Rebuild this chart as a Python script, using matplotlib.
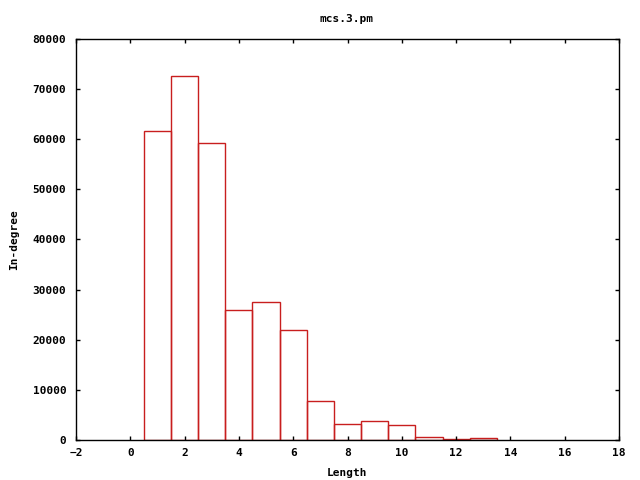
import matplotlib
matplotlib.use("Agg")
import matplotlib.pyplot as plt

lengths = [1, 2, 3, 4, 5, 6, 7, 8, 9, 10, 11, 12, 13]
counts = [61600, 72600, 59300, 26000, 27600, 22000, 7800, 3200, 3800, 3000, 600, 200, 350]

plt.rcParams['font.family'] = 'DejaVu Sans Mono'
plt.rcParams['font.size'] = 8
plt.rcParams['font.weight'] = 'bold'

fig = plt.figure(figsize=(6.4, 4.8), dpi=100)
ax = fig.add_axes([76/640, 40/480, (619-76)/640, 401/480])

ax.bar(lengths, counts, width=1.0, align='center', facecolor='none',
       edgecolor='#c81e1e', linewidth=1.0)

ax.set_xlim(-2, 18)
ax.set_ylim(0, 80000)
ax.set_xticks(range(-2, 19, 2))
ax.set_yticks(range(0, 80001, 10000))
ax.tick_params(direction='in', top=True, right=True, length=3, width=1)
ax.tick_params(axis='x', pad=6)
ax.tick_params(axis='y', pad=7)
for s in ax.spines.values():
    s.set_linewidth(1)

fig.text(347/640, 1 - 19/480, 'mcs.3.pm', ha='center', va='center', fontsize=8, fontweight='bold')
fig.text(347/640, 1 - 473/480, 'Length', ha='center', va='center', fontweight='bold')
fig.text(14/640, 1 - 240/480, 'In-degree', ha='center', va='center', rotation=90, fontweight='bold')

fig.savefig('out.png', dpi=100)
